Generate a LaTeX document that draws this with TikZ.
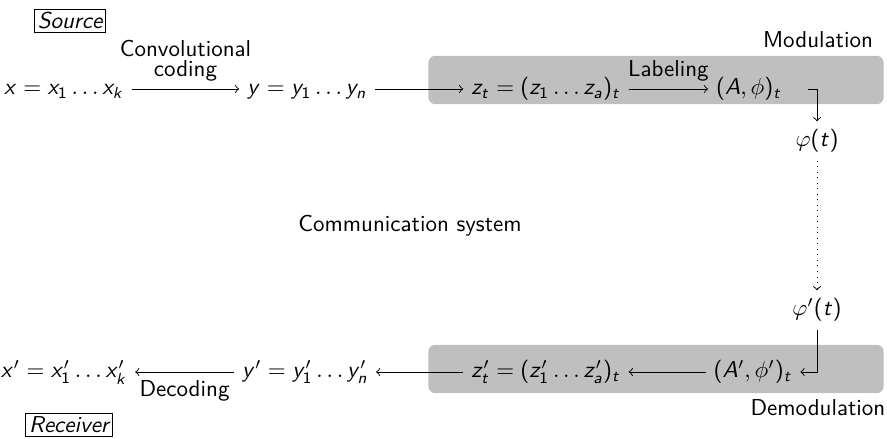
\documentclass[tikz,border=0pt]{standalone}
\usepackage{amsmath,amssymb}
\usetikzlibrary{positioning}

% sans serif math letters and digits
\SetSymbolFont{operators}{normal}{OT1}{cmss}{m}{n}
\DeclareSymbolFont{sfletters}{OT1}{cmss}{m}{it}
\DeclareMathSymbol{x}{\mathalpha}{sfletters}{`x}
\DeclareMathSymbol{y}{\mathalpha}{sfletters}{`y}
\DeclareMathSymbol{z}{\mathalpha}{sfletters}{`z}
\DeclareMathSymbol{k}{\mathalpha}{sfletters}{`k}
\DeclareMathSymbol{n}{\mathalpha}{sfletters}{`n}
\DeclareMathSymbol{a}{\mathalpha}{sfletters}{`a}
\DeclareMathSymbol{t}{\mathalpha}{sfletters}{`t}
\DeclareMathSymbol{A}{\mathalpha}{sfletters}{`A}

\tikzset{
  row/.style={text height=7pt, text depth=2pt},
  tag/.style={draw, inner sep=1.5pt, font=\itshape},
  band/.style={fill=lightgray, rounded corners=3pt, minimum width=198pt, minimum height=21pt},
}

\begin{document}
\sffamily
\begin{tikzpicture}[x=0.4348pt,y=-0.4348pt]
    \useasboundingbox (0,0) rectangle (887,439);
    % grey bands behind the modulator and demodulator
    \node[band] (modbox) at (656,80) {};
    \node[band] (demodbox) at (656,369) {};
    \node (mod) at (818,40) {Modulation};
    \node (demod) at (818,408) {Demodulation};
    \node[tag] (src) at (70,21) {Source};
    \node[tag] (rcv) at (69,425) {Receiver};
    \node (comm) at (410,226) {Communication system};

    \node[row] (x0) at (64,89) {$x = x_1\dots x_k$};
    \node[row] (y0) at (307,89) {$y = y_1\dots y_n$};
    \node[row] (z0) at (546,89) {$z_t = (z_1\dots z_a)_t$};
    \node[row] (A0) at (749,89) {$(A,\phi)_t$};
    \node (phi) at (817,141) {$\varphi(t)$};
    \node (phip) at (817,310) {$\varphi'(t)$};
    \node[row] (A1) at (753,372) {$(A',\phi')_t$};
    \node[row] (z1) at (546,372) {$z'_t = (z'_1\dots z'_a)_t$};
    \node[row] (y1) at (305,372) {$y' = y'_1\dots y'_n$};
    \node[row] (x1) at (64,372) {$x' = x'_1\dots x'_k$};

    \draw [->] (x0) -- (y0) node[midway,above,align=center] {Convolutional\\[-3.5pt]coding};
    \draw [->] (y0) -- (z0);
    \draw [->] (z0) -- (A0) node[midway,above] {Labeling};
    \draw [->,shorten <=8pt] (A0) -| (phi);
    \draw [->,dotted] (phi) -- (phip);
    \draw [->] (phip) |- (A1);
    \draw [->] (A1) -- (z1);
    \draw [->] (z1) -- (y1);
    \draw [->] (y1) -- (x1) node[midway,below] {Decoding};
\end{tikzpicture}
\end{document}
